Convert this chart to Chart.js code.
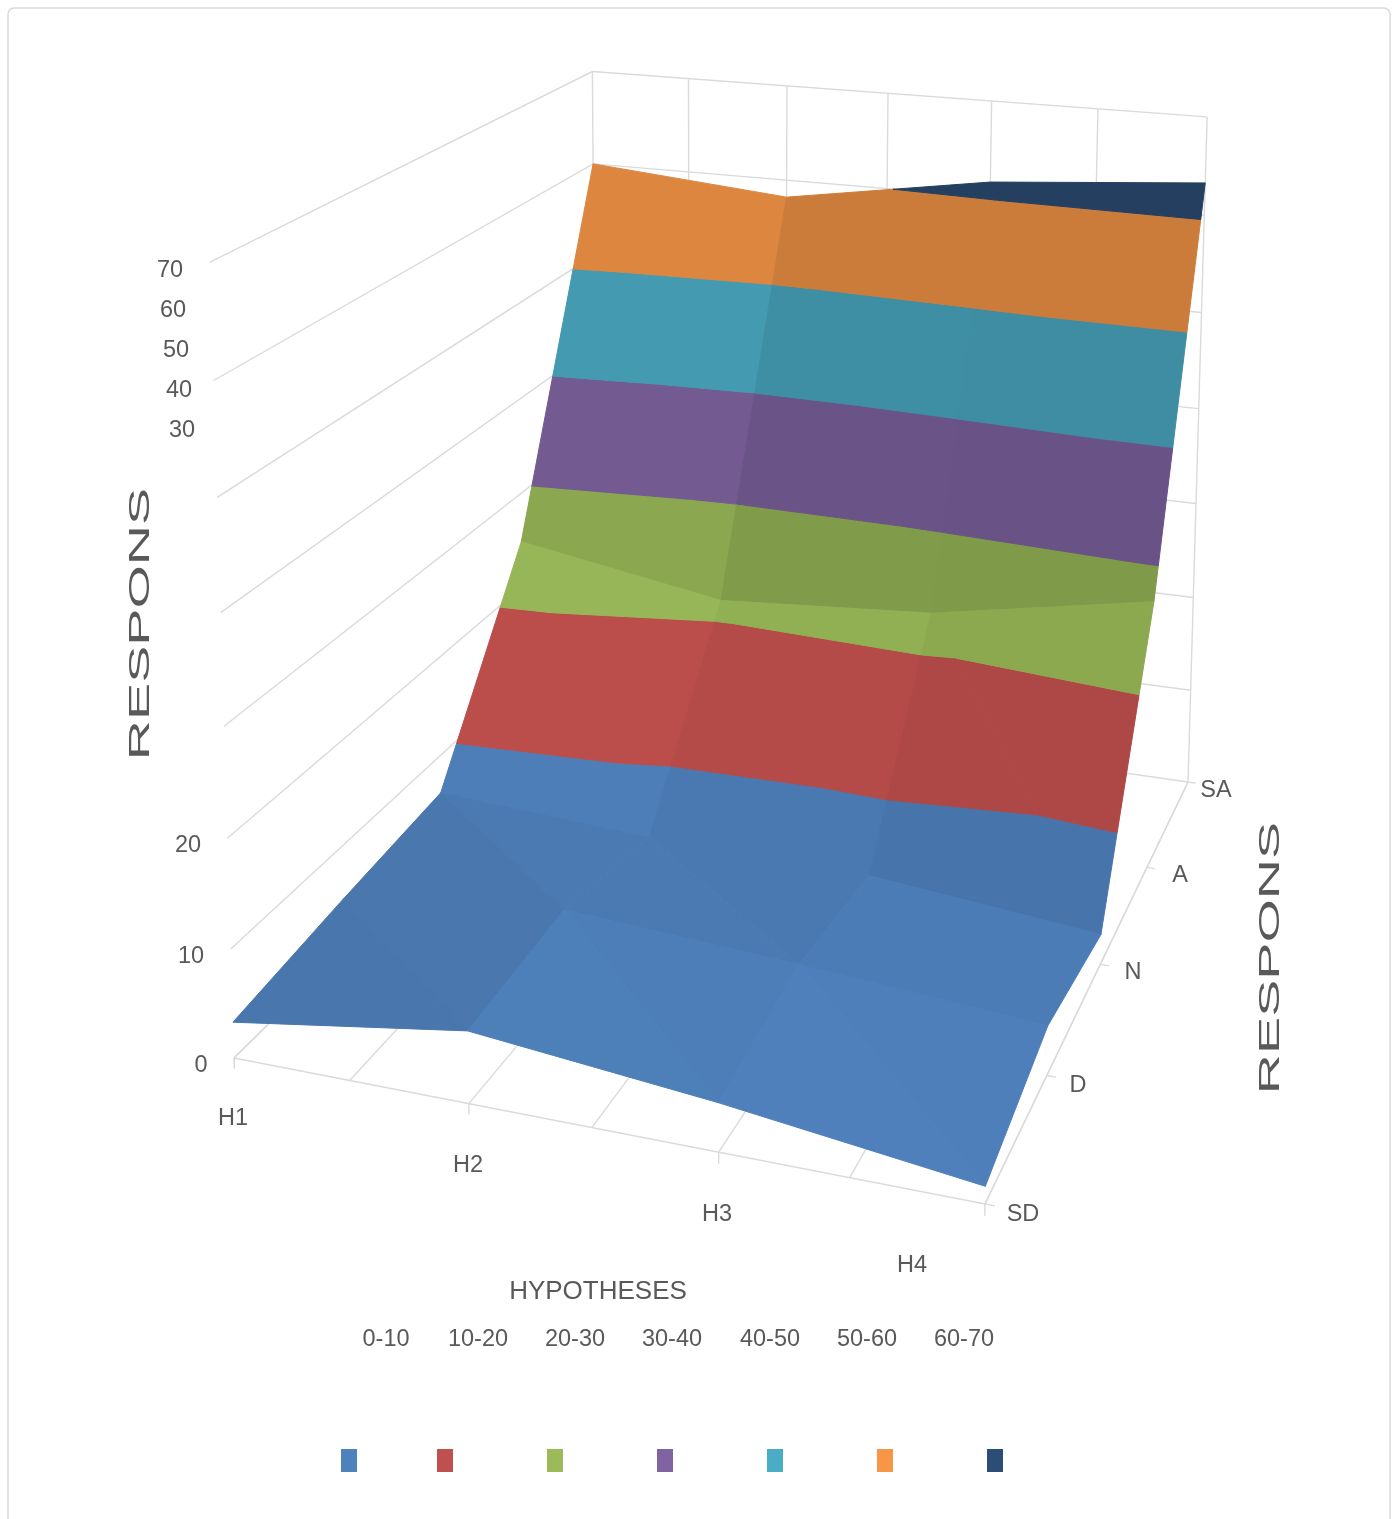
<!DOCTYPE html>
<html>
<head>
<meta charset="utf-8">
<style>
  html, body { margin: 0; padding: 0; background: #ffffff; }
  canvas { display: block; }
</style>
<script src="https://cdn.jsdelivr.net/npm/chart.js@4/dist/chart.umd.js"></script>
</head>
<body>
<canvas id="surface" width="1397" height="1519"></canvas>
<script>
// Categories on the two floor axes
const hypotheses = ['H1', 'H2', 'H3', 'H4'];
const responses = ['SD', 'D', 'N', 'A', 'SA'];

// Surface height for each hypothesis, one value per response
const h1Values = [3.3, 5, 6.5, 25, 60];
const h2Values = [6.5, 7.6, 5.3, 21.5, 58.2];
const h3Values = [4.3, 6.2, 5, 23, 61.6];
const h4Values = [1.5, 4.5, 2.9, 27, 63.3];

// Height bands and value-axis labels
const bandLabels = ['0-10', '10-20', '20-30', '30-40', '40-50', '50-60', '60-70'];
const bandColors = ['#4F81BD', '#C0504D', '#9BBB59', '#8064A2', '#4BACC6', '#F79646', '#2C4D75'];
const valueTicks = ['0', '10', '20', '30', '40', '50', '60', '70'];

const grid = [h1Values, h2Values, h3Values, h4Values];
const Z_MAX = 70, BAND = 10;

// Perspective camera: (u, v, w) in the unit cube maps to the page plane,
// with a small skew towards the far corners of the walls
const cam = {
  o: [234, 1058],
  a1: [662.35, 37.64],
  a2: [523.31, -161.15],
  a3: [-33.87, -808.31],
  d: [-0.09, 0.285, -0.047]
};
function project(u, v, z) {
  const w = z / Z_MAX;
  const den = 1 + cam.d[0] * u + cam.d[1] * v + cam.d[2] * w;
  return {
    x: (cam.o[0] + cam.a1[0] * u + cam.a2[0] * v + cam.a3[0] * w) / den + 8 * (1 - u) * Math.min(1, 2 * v),
    y: (cam.o[1] + cam.a1[1] * u + cam.a2[1] * v + cam.a3[1] * w) / den + 7 * u * v * w
  };
}

// Keep the part of a polygon that lies on one side of a height level
function clipAt(poly, level, keepAbove) {
  const out = [];
  for (let i = 0; i < poly.length; i++) {
    const p = poly[i], q = poly[(i + 1) % poly.length];
    const pIn = keepAbove ? p.z >= level : p.z <= level;
    const qIn = keepAbove ? q.z >= level : q.z <= level;
    if (pIn) out.push(p);
    if (pIn !== qIn) {
      const t = (level - p.z) / (q.z - p.z);
      out.push({ u: p.u + (q.u - p.u) * t, v: p.v + (q.v - p.v) * t, z: level });
    }
  }
  return out;
}

function shade(hex, f) {
  const n = parseInt(hex.slice(1), 16);
  const ch = s => Math.max(0, Math.min(255, Math.round(((n >> s) & 255) * f)));
  return 'rgb(' + ch(16) + ',' + ch(8) + ',' + ch(0) + ')';
}

// Brightness from the slope per grid step along each floor axis
function lightFromSlopes(du, dv) {
  const slopeU = du * (hypotheses.length - 1) / Z_MAX;
  const slopeV = dv * (responses.length - 1) / Z_MAX;
  const su = -slopeU / Math.hypot(1, slopeU);
  const sv = Math.abs(slopeV) / Math.hypot(1, slopeV);
  const gentle = Math.abs(slopeV) < 0.3 ? 0.12 * slopeV : 0;
  return 0.945 + 0.3 * su - 0.42 * Math.max(0, sv - 0.7) + gentle;
}

const polyDataset = (pts, color) => ({
  data: pts.concat([pts[0]]),
  showLine: true,
  pointRadius: 0,
  tension: 0,
  borderWidth: 1,
  borderColor: color,
  backgroundColor: color,
  fill: 'shape'
});

const lineDataset = (pts) => ({
  data: pts,
  showLine: true,
  pointRadius: 0,
  tension: 0,
  borderWidth: 1.4,
  borderColor: '#DADADA',
  fill: false
});

// Walls and floor, drawn first so the surface covers them
const layers = [];
for (let k = 0; k < valueTicks.length; k++) {
  const z = Number(valueTicks[k]);
  layers.push(lineDataset([project(0, 0, z), project(0, 1, z), project(1, 1, z)]));
}
for (let k = 0; k <= 6; k++) {
  const u = k / 6;
  layers.push(lineDataset([project(u, 0, 0), project(u, 1, 0), project(u, 1, Z_MAX)]));
}
layers.push(lineDataset([project(0, 0, 0), project(1, 0, 0), project(1, 1, 0)]));
hypotheses.forEach((_, i) => {
  const u = i / (hypotheses.length - 1);
  layers.push(lineDataset([project(u, 0, 0), project(u, 0, -1)]));
});
responses.forEach((_, j) => {
  const v = j / (responses.length - 1);
  layers.push(lineDataset([project(1, v, 0), project(1.012, v, 0)]));
});

// Surface facets, back row to front row, cut into height bands
const vertex = (i, j) => ({
  u: i / (hypotheses.length - 1),
  v: j / (responses.length - 1),
  z: grid[i][j]
});
function addFacet(tri, f) {
  bandColors.forEach((color, k) => {
    const lo = k * BAND, hi = lo + BAND;
    const part = clipAt(clipAt(tri, lo, true), hi, false);
    if (part.length >= 3) {
      layers.push(polyDataset(part.map(p => project(p.u, p.v, p.z)), shade(color, f)));
    }
  });
}
for (let j = responses.length - 2; j >= 0; j--) {
  for (let i = 0; i < hypotheses.length - 1; i++) {
    const a = vertex(i, j), b = vertex(i + 1, j), c = vertex(i + 1, j + 1), d = vertex(i, j + 1);
    if (j >= 2) {
      // Steep rows read as one flat panel per cell
      const du = ((b.z - a.z) + (c.z - d.z)) / 2;
      const dv = ((d.z - a.z) + (c.z - b.z)) / 2;
      const f = lightFromSlopes(du, dv);
      addFacet([b, c, d], f);
      addFacet([a, b, d], f);
    } else {
      // Shallow rows keep their two triangles
      addFacet([b, c, d], lightFromSlopes(c.z - d.z, c.z - b.z));
      addFacet([a, b, d], lightFromSlopes(b.z - a.z, d.z - a.z));
    }
  }
}

// Text and decoration placement on the page
const textColor = '#595959';
const frameBox = { x: 8, y: 8, w: 1382, h: 1540, r: 6 };
const valueLabelAt = { '0': [201, 1066], '10': [191, 957], '20': [188, 846], '30': [182, 431], '40': [179, 391], '50': [176, 351], '60': [173, 311], '70': [170, 271] };
const hypothesisLabelAt = { H1: [233, 1119], H2: [468, 1166], H3: [717, 1215], H4: [912, 1266] };
const responseLabelAt = { SD: [1023, 1215], D: [1078, 1086], N: [1133, 973], A: [1180, 876], SA: [1216, 791] };
const legendTextX = [386, 478, 575, 672, 770, 867, 964];
const legendSwatchX = [349, 445, 555, 665, 775, 885, 995];

const decorations = {
  id: 'decorations',
  beforeDraw(chart) {
    const ctx = chart.ctx;
    ctx.save();
    ctx.fillStyle = '#ffffff';
    ctx.fillRect(0, 0, chart.width, chart.height);
    ctx.strokeStyle = '#D9D9D9';
    ctx.lineWidth = 1.5;
    ctx.beginPath();
    ctx.roundRect(frameBox.x, frameBox.y, frameBox.w, frameBox.h, frameBox.r);
    ctx.stroke();
    ctx.restore();
  },
  afterDraw(chart) {
    const ctx = chart.ctx;
    ctx.save();
    ctx.fillStyle = textColor;
    ctx.textAlign = 'center';
    ctx.textBaseline = 'middle';
    ctx.font = '23.5px "Liberation Sans", Arial, sans-serif';
    valueTicks.forEach(t => ctx.fillText(t, valueLabelAt[t][0], valueLabelAt[t][1]));
    hypotheses.forEach(t => ctx.fillText(t, hypothesisLabelAt[t][0], hypothesisLabelAt[t][1]));
    responses.forEach(t => ctx.fillText(t, responseLabelAt[t][0], responseLabelAt[t][1]));
    bandLabels.forEach((t, i) => ctx.fillText(t, legendTextX[i], 1340));
    bandColors.forEach((c, i) => {
      ctx.fillStyle = c;
      ctx.fillRect(legendSwatchX[i] - 8, 1449, 16, 23);
    });
    ctx.fillStyle = textColor;
    ctx.font = '26px "Liberation Sans", Arial, sans-serif';
    ctx.fillText('HYPOTHESES', 598, 1292);

    // Stretched axis titles running up the page
    [[140.5, 624], [1270.5, 958]].forEach(([x, y]) => {
      ctx.save();
      ctx.translate(x, y);
      ctx.rotate(-Math.PI / 2);
      ctx.scale(1.92, 1);
      ctx.font = '29px "Liberation Sans", Arial, sans-serif';
      ctx.fillText('RESPONS', 0, 0);
      ctx.restore();
    });
    ctx.restore();
  }
};

// Chart.js paints the first dataset on top, so the list is reversed
new Chart(document.getElementById('surface'), {
  type: 'scatter',
  data: { datasets: layers.slice().reverse() },
  options: {
    responsive: false,
    animation: false,
    clip: false,
    layout: { padding: 0 },
    plugins: { legend: { display: false }, tooltip: { enabled: false }, title: { display: false } },
    scales: {
      x: { type: 'linear', min: 0, max: 1397, display: false },
      y: { type: 'linear', min: 0, max: 1519, reverse: true, display: false }
    }
  },
  plugins: [decorations]
});
</script>
</body>
</html>
